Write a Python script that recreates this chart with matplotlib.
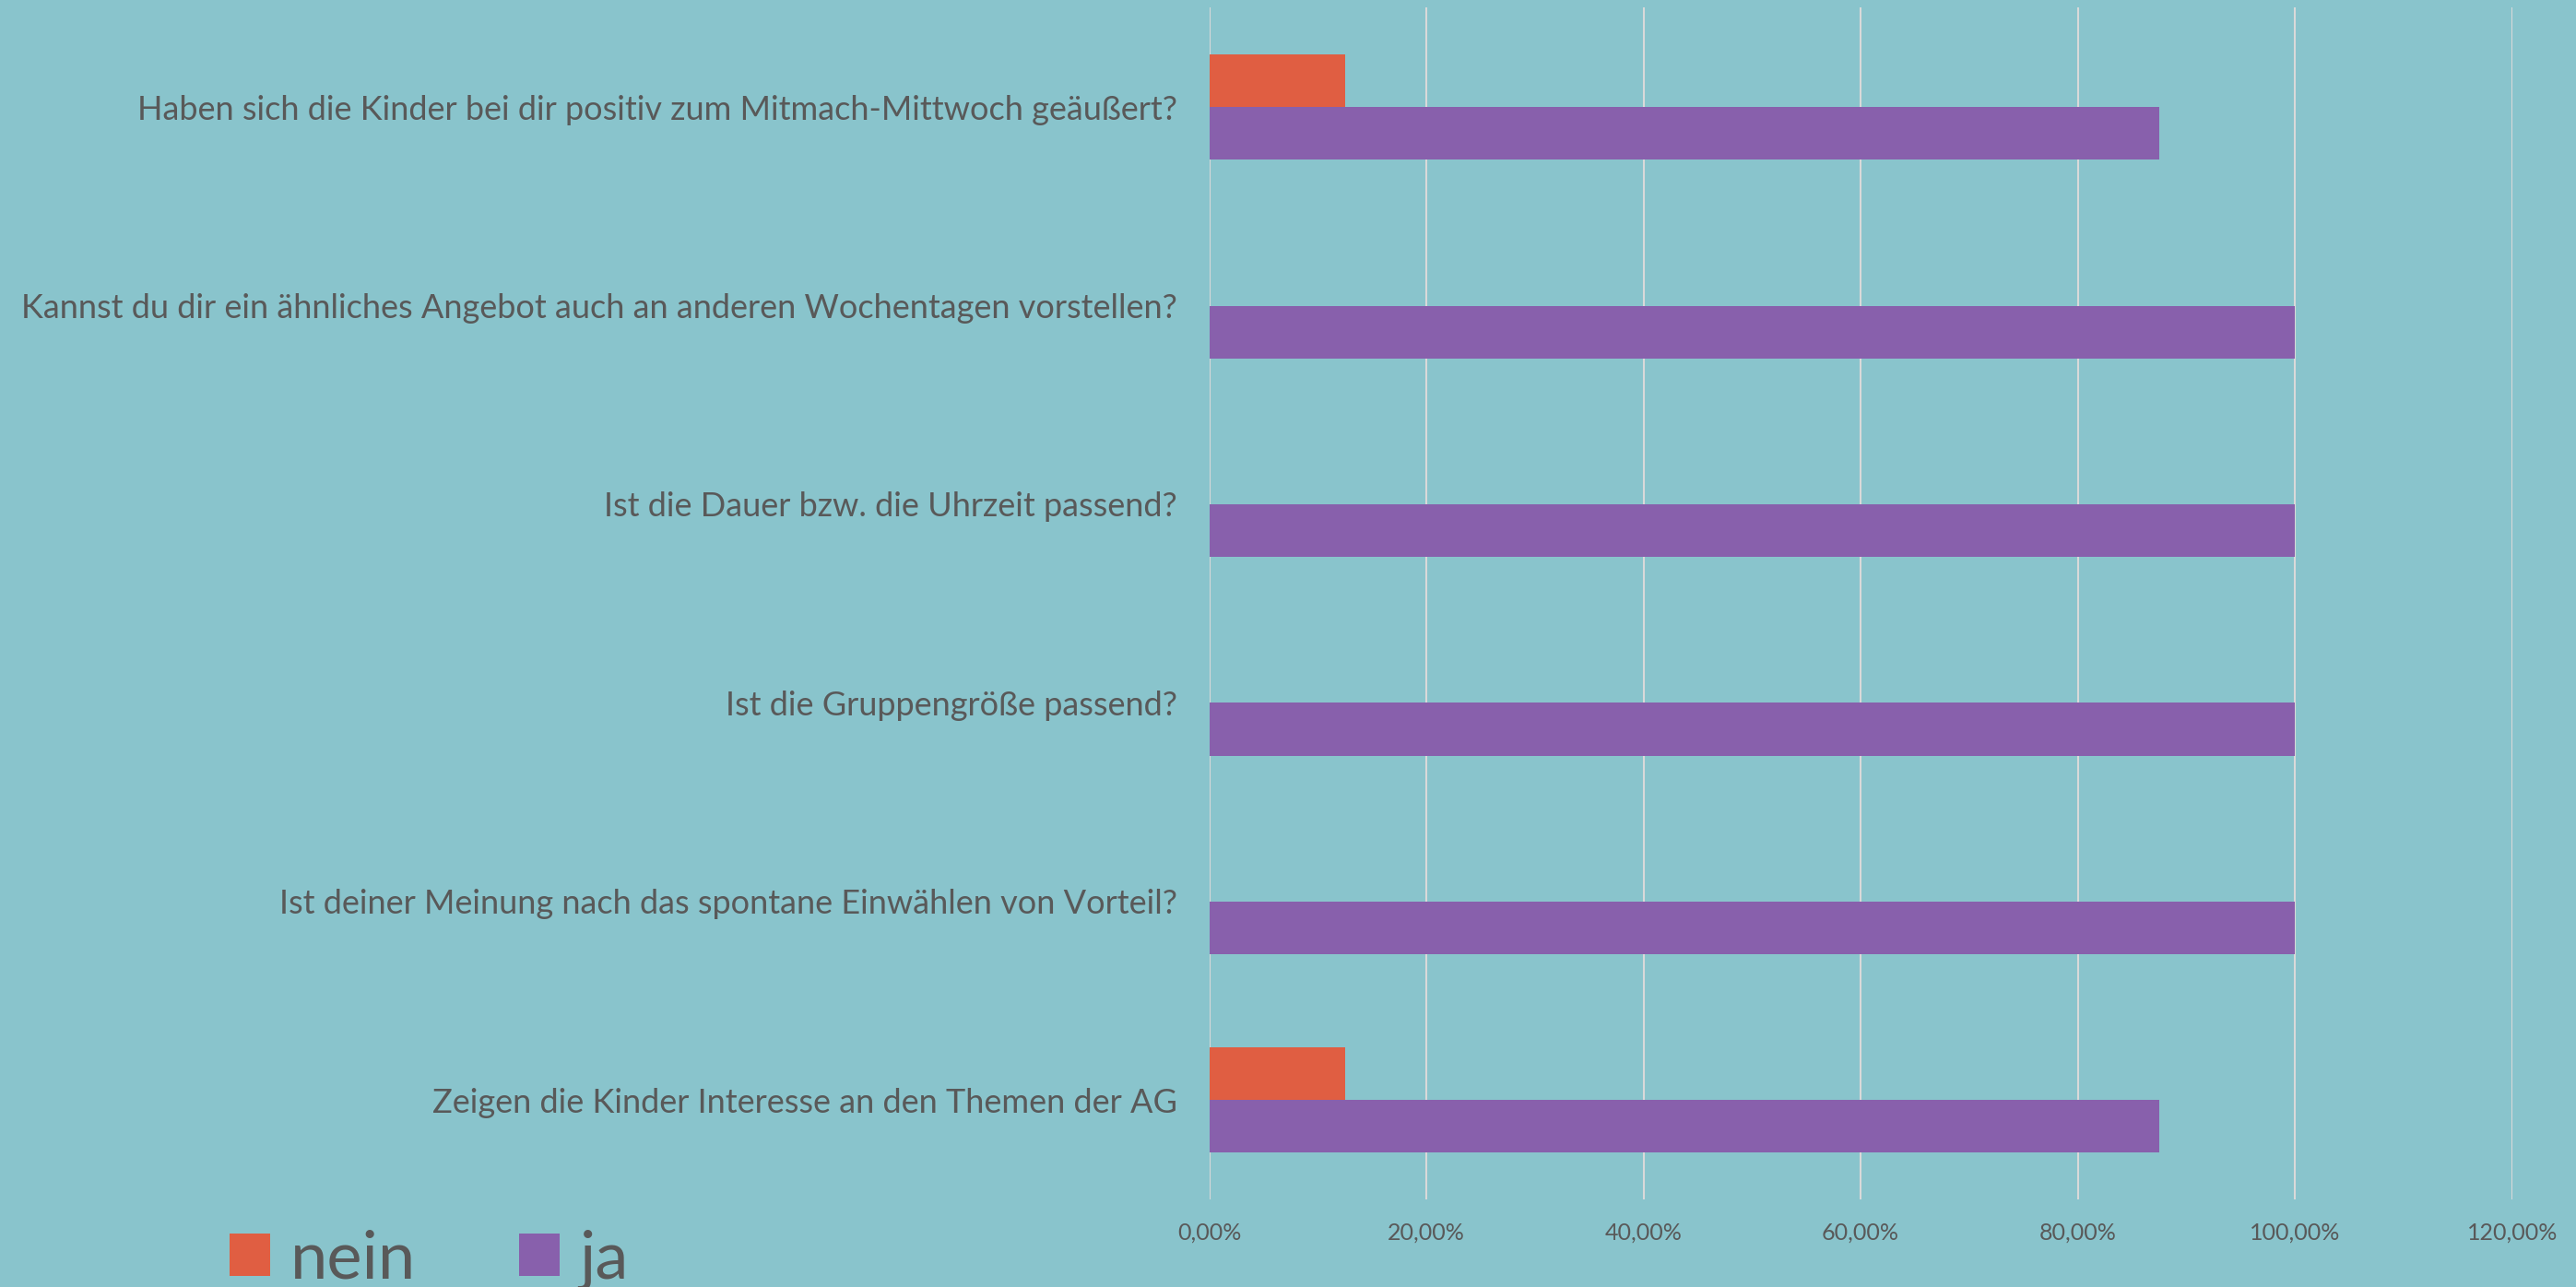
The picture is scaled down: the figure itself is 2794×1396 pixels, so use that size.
import numpy as np
import matplotlib.pyplot as plt
from matplotlib.ticker import FuncFormatter

# survey questions, top to bottom
questions = [
    'Haben sich die Kinder bei dir positiv zum Mitmach-Mittwoch geäußert?',
    'Kannst du dir ein ähnliches Angebot auch an anderen Wochentagen vorstellen?',
    'Ist die Dauer bzw. die Uhrzeit passend?',
    'Ist die Gruppengröße passend?',
    'Ist deiner Meinung nach das spontane Einwählen von Vorteil?',
    'Zeigen die Kinder Interesse an den Themen der AG',
]
nein = [0.125, 0, 0, 0, 0, 0.125]
ja = [0.875, 1.0, 1.0, 1.0, 1.0, 0.875]
xticks = [0, 0.2, 0.4, 0.6, 0.8, 1.0, 1.2]

bg = '#89C4CC'
c_nein = '#E05E42'
c_ja = '#8860AC'
txt = '#595959'

plt.rcParams['font.family'] = ['Lato', 'DejaVu Sans']

fig = plt.figure(figsize=(27.94, 13.96), dpi=100, facecolor=bg)
ax = fig.add_axes([0.4694, 0.068, 0.5058, 0.926], facecolor=bg)

y = np.arange(len(questions))
h = 0.265
ax.barh(y - h / 2, nein, height=h, color=c_nein, label='nein', zorder=3)
ax.barh(y + h / 2, ja, height=h, color=c_ja, label='ja', zorder=3)

ax.set_xlim(0, 1.2)
ax.set_ylim(len(questions) - 0.5, -0.5)
ax.set_xticks(xticks)
ax.xaxis.set_major_formatter(FuncFormatter(lambda v, p: f'{v * 100:.2f}%'.replace('.', ',')))
ax.set_yticks(y)
ax.set_yticklabels(questions)

ax.grid(axis='x', color='#D9D9D9', linewidth=1.5, zorder=0)
for s in ax.spines.values():
    s.set_visible(False)
ax.tick_params(axis='y', length=0, pad=25, labelsize=26, labelcolor=txt)
ax.tick_params(axis='x', length=0, pad=18, labelsize=18, labelcolor=txt)

fig.legend(loc='center left', bbox_to_anchor=(0.089, 0.021), ncol=2, frameon=False,
           fontsize=52, labelcolor=txt, borderpad=0, borderaxespad=0,
           handlelength=0.61, handleheight=0.6, handletextpad=0.3, columnspacing=1.55)

fig.savefig('out.png', facecolor=bg)
